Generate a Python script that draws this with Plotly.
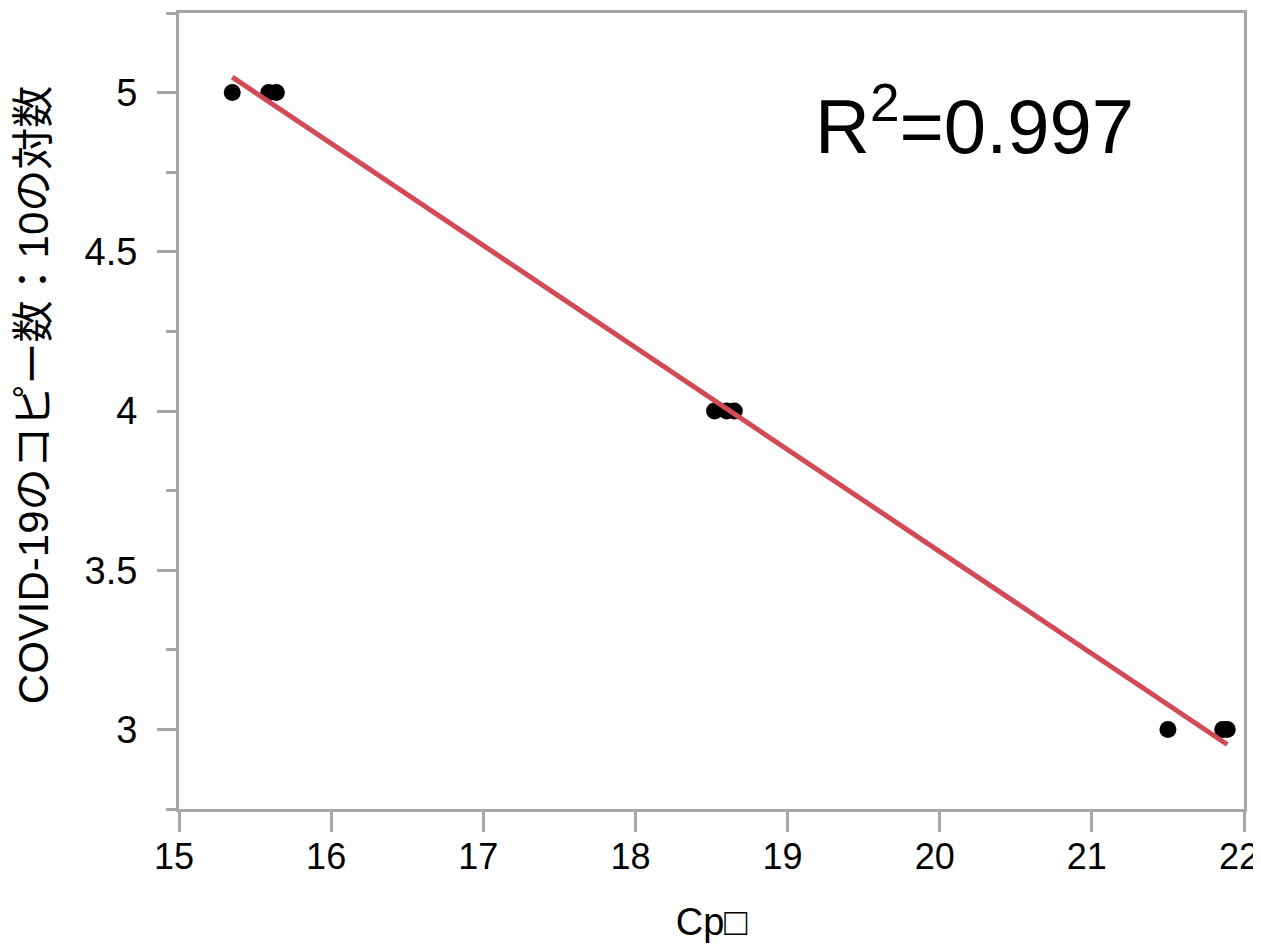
import numpy as np
import plotly.graph_objects as go

# Data
cp_values = [15.35, 15.59, 15.64, 18.52, 18.60, 18.65, 21.50, 21.86, 21.89]
log_copies = [5, 5, 5, 4, 4, 4, 3, 3, 3]
x_ticks = [15, 16, 17, 18, 19, 20, 21, 22]
x_tick_labels = ["15", "16", "17", "18", "19", "20", "21", "22"]
y_ticks = [3, 3.5, 4, 4.5, 5]
y_tick_labels = ["3", "3.5", "4", "4.5", "5"]
r2_label = "R<sup>2</sup>=0.997"
x_title = "Cp□"
y_title = "COVID-19のコピー数：10の対数"

x = np.array(cp_values)
y = np.array(log_copies)
slope, intercept = np.polyfit(x, y, 1)
fit_x = np.array([x.min(), x.max()])
fit_y = slope * fit_x + intercept

font_fam = "Liberation Sans, Arial, Noto Sans CJK JP, sans-serif"
axis_color = "#a6a6a6"
fs = 38

fig = go.Figure()
fig.add_trace(go.Scatter(
    x=cp_values, y=log_copies, mode="markers",
    marker=dict(color="black", size=17), showlegend=False,
))
fig.add_trace(go.Scatter(
    x=fit_x, y=fit_y, mode="lines",
    line=dict(color="#d14a56", width=5), showlegend=False,
))

fig.add_annotation(
    x=19.17, y=4.91, xref="x", yref="y", xanchor="left", yanchor="middle",
    text=r2_label, showarrow=False,
    font=dict(size=76, color="black", family=font_fam),
)
fig.add_annotation(
    x=-0.137, y=0.52, xref="paper", yref="paper", xanchor="center", yanchor="middle",
    text=y_title, textangle=-90, showarrow=False,
    font=dict(size=42, color="black", family=font_fam),
)

fig.update_layout(
    width=1253, height=937,
    margin=dict(l=171, r=17, t=5, b=136),
    paper_bgcolor="white", plot_bgcolor="white",
    font=dict(family=font_fam, color="black", size=fs),
    xaxis=dict(
        range=[15, 22], tickvals=x_ticks, ticktext=x_tick_labels,
        ticks="outside", ticklen=20,
        tickwidth=3, tickcolor=axis_color, showline=True, linewidth=3,
        linecolor=axis_color, mirror=True, showgrid=False, zeroline=False,
        tickfont=dict(size=36), automargin=False, ticklabeloverflow="allow",
        ticklabelstandoff=-6, ticklabelshift=-5,
        title=dict(text=x_title, font=dict(size=fs), standoff=33),
    ),
    yaxis=dict(
        range=[2.75, 5.25], tickvals=y_ticks, ticktext=y_tick_labels,
        ticks="outside", ticklen=19, tickwidth=3, tickcolor=axis_color,
        minor=dict(dtick=0.25, tick0=2.75, ticks="outside", ticklen=10,
                   tickwidth=3, tickcolor=axis_color, showgrid=False),
        showline=True, linewidth=3, linecolor=axis_color, mirror=True,
        showgrid=False, zeroline=False, tickfont=dict(size=fs), automargin=False,
        ticklabelstandoff=12,
    ),
)

fig.write_html("out.html")
